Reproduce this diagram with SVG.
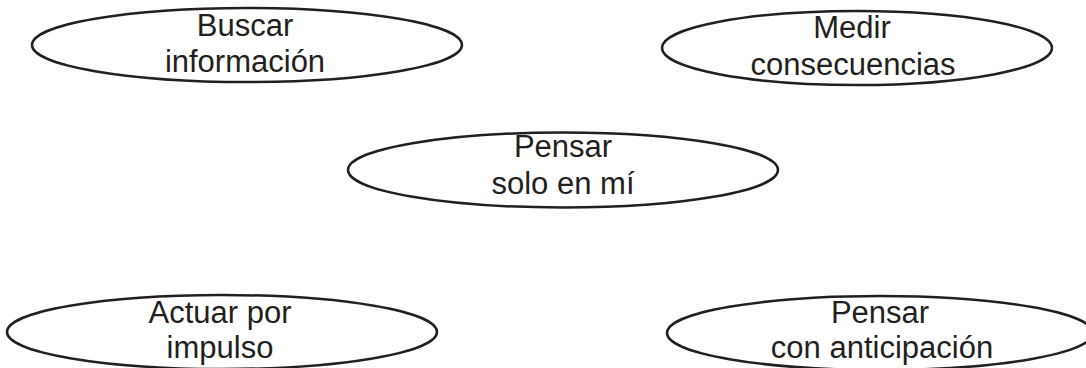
<svg xmlns="http://www.w3.org/2000/svg" width="1086" height="368" viewBox="0 0 1086 368">
<style>
.n{fill:#fff;stroke:#231f20;stroke-width:2.5}
.t{font-family:"Liberation Sans",Arial,sans-serif;font-size:31px;fill:#231f20;text-anchor:middle}
</style>
<rect width="1086" height="368" fill="#fff"/>
<g id="connectors"></g>
<g id="n1"><ellipse class="n" cx="247" cy="45" rx="215" ry="37"/><text class="t" x="245" y="36">Buscar</text><text class="t" x="245" y="72">información</text></g>
<g id="n2"><ellipse class="n" cx="857" cy="48" rx="195" ry="37"/><text class="t" x="852" y="38">Medir</text><text class="t" x="853" y="75">consecuencias</text></g>
<g id="n3"><ellipse class="n" cx="563" cy="170" rx="215" ry="37.5"/><text class="t" x="563" y="157">Pensar</text><text class="t" x="563" y="194">solo en mí</text></g>
<g id="n4"><ellipse class="n" cx="222" cy="332" rx="215" ry="37"/><text class="t" x="220" y="323">Actuar por</text><text class="t" x="220" y="358">impulso</text></g>
<g id="n5"><ellipse class="n" cx="880" cy="333" rx="213" ry="37"/><text class="t" x="880" y="323">Pensar</text><text class="t" x="882" y="358">con anticipación</text></g>
</svg>
